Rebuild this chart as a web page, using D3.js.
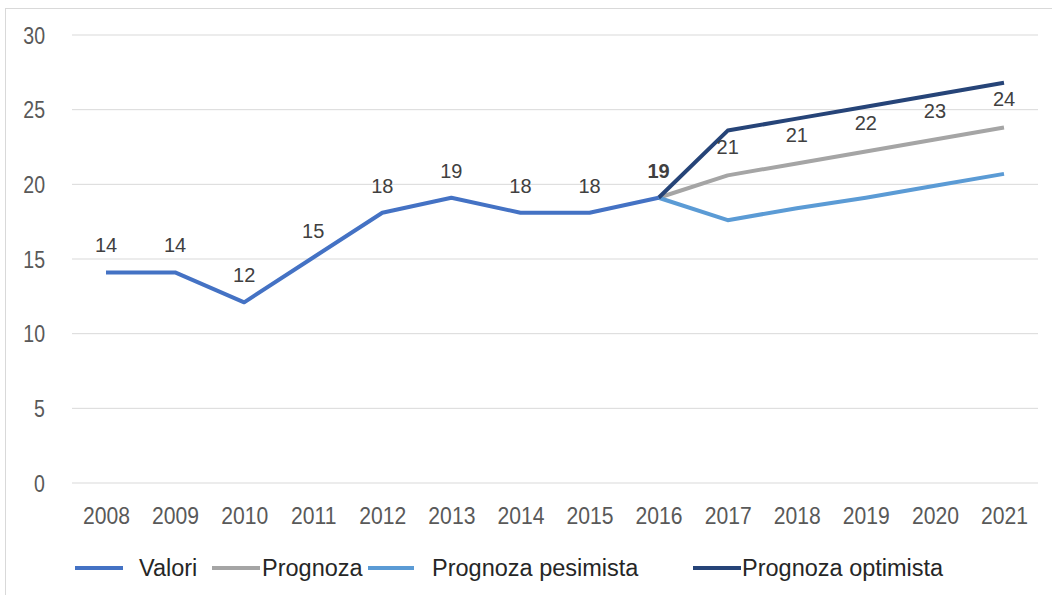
<!DOCTYPE html>
<html><head><meta charset="utf-8">
<script src="https://cdn.jsdelivr.net/npm/d3@7"></script>
<style>body{margin:0;background:#fff;}svg{display:block;font-family:"Liberation Sans",Arial,sans-serif;}</style>
</head><body><svg id="c" width="1052" height="595"></svg>
<script>
const years = ["2008","2009","2010","2011","2012","2013","2014","2015","2016","2017","2018","2019","2020","2021"];
const valori = [14.1,14.1,12.1,15.1,18.1,19.1,18.1,18.1,19.1,null,null,null,null,null];
const valoriLabels = ["14","14","12","15","18","19","18","18","19"];
const prognoza = [null,null,null,null,null,null,null,null,19.1,20.6,21.4,22.2,23.0,23.8];
const pesimista = [null,null,null,null,null,null,null,null,19.1,17.6,18.4,19.1,19.9,20.7];
const optimista = [null,null,null,null,null,null,null,null,19.1,23.6,24.4,25.2,26.0,26.8];
const optimistaLabels = [null,null,null,null,null,null,null,null,null,"21","21","22","23","24"];
const yTicks = [0,5,10,15,20,25,30];
const seriesNames = ["Valori","Prognoza","Prognoza pesimista","Prognoza optimista"];
const colors = ["#4472C4","#A5A5A5","#5B9BD5","#264478"];

const svg = d3.select("#c");
svg.append("rect").attr("x",5.5).attr("y",8.5).attr("width",1060).attr("height",600).attr("fill","#fff").attr("stroke","#d9d9d9");

const x = d3.scalePoint().domain(years).range([106,1004]);
const y = d3.scaleLinear().domain([0,30]).range([483,35]);

const grid = svg.append("g");
grid.selectAll("line").data(yTicks).join("line")
  .attr("x1",72).attr("x2",1038).attr("y1",d=>y(d)).attr("y2",d=>y(d))
  .attr("stroke","#d9d9d9").attr("stroke-width",1);

const yAxis = svg.append("g").attr("transform","translate(45,0)")
  .call(d3.axisLeft(y).tickValues(yTicks).tickSize(0));
yAxis.select(".domain").remove();
yAxis.selectAll(".tick text").attr("font-size",23).attr("fill","#595959").attr("text-anchor","end")
  .attr("x",0).attr("dx",0).attr("dy","0.36em").attr("transform","scale(0.85,1)");

const xAxis = svg.append("g").attr("transform","translate(0,483)")
  .call(d3.axisBottom(x).tickSize(0));
xAxis.select(".domain").remove();
xAxis.selectAll(".tick text").attr("font-size",23).attr("fill","#595959")
  .attr("y",0).attr("dy",0).attr("transform","translate(0,41) scale(0.92,1)");

const line = d3.line().defined(d=>d!=null).x((d,i)=>x(years[i])).y(d=>y(d));
const all = [valori,prognoza,pesimista,optimista];
[1,2,3,0].forEach(k=>{
  svg.append("path").datum(all[k]).attr("d",line).attr("fill","none")
    .attr("stroke",colors[k]).attr("stroke-width",4).attr("stroke-linejoin","round");
});

svg.append("g").selectAll("text").data(valoriLabels).join("text")
  .attr("x",(d,i)=>x(years[i])).attr("y",(d,i)=>y(valori[i])-20)
  .attr("text-anchor","middle").attr("font-size",20).attr("fill","#404040")
  .attr("font-weight",(d,i)=>i===8?"bold":"normal").text(d=>d);

svg.append("g").selectAll("text").data(optimistaLabels.map((d,i)=>({d,i})).filter(o=>o.d))
  .join("text")
  .attr("x",o=>x(years[o.i])).attr("y",o=>y(optimista[o.i])+23)
  .attr("text-anchor","middle").attr("font-size",20).attr("fill","#404040").text(o=>o.d);

const legX = [[75,123,139],[212,260,262],[368,414,432],[693,741,742]];
const lg = svg.append("g");
seriesNames.forEach((n,k)=>{
  lg.append("line").attr("x1",legX[k][0]).attr("x2",legX[k][1]).attr("y1",568).attr("y2",568)
    .attr("stroke",colors[k]).attr("stroke-width",4);
  lg.append("text").attr("x",legX[k][2]).attr("y",576).attr("font-size",23.5).attr("fill","#262626").text(n);
});
</script></body></html>
